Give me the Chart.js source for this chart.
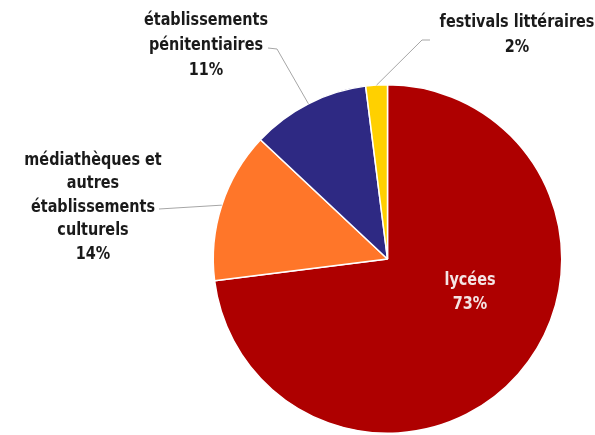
<!DOCTYPE html>
<html>
<head>
<meta charset="utf-8">
<script src="https://cdn.jsdelivr.net/npm/chart.js@4.4.1/dist/chart.umd.min.js"></script>
<style>
  html, body { margin: 0; padding: 0; background: #fff; }
  #wrap { width: 595px; height: 435px; }
</style>
</head>
<body>
<div id="wrap"><canvas id="chartPie" width="595" height="435"></canvas></div>
<script>
// Données
const categories = [
    'lycées',
    'médiathèques et autres établissements culturels',
    'établissements pénitentiaires',
    'festivals littéraires'
];
const valeurs = [73, 14, 11, 2];
const etiquettes = ['73%', '14%', '11%', '2%'];
const couleurs = ['#AE0000', '#FF7629', '#2E2983', '#FFD000'];

// Lignes de texte de chaque étiquette (découpage comme sur l'original)
const lignesEtiquettes = [
    [categories[0], etiquettes[0]],
    ['médiathèques et', 'autres', 'établissements', 'culturels', etiquettes[1]],
    ['établissements', 'pénitentiaires', etiquettes[2]],
    [categories[3], etiquettes[3]]
];

// Police étroite : on compresse un peu la DejaVu condensée
const POLICE = "bold 18px 'Liberation Sans Narrow', 'DejaVu Sans Condensed', sans-serif";
const COMPRESSION = 0.89;

// Placement des étiquettes : centre du texte, première ligne, et point d'attache de la ligne de rappel
const placement = [
    { x: 470, y: 280, pas: 24, couleur: '#F4E4E4', rappel: null },
    { x: 93, y: 160, pas: 23.5, couleur: '#1A1A1A', rappel: [[159, 209]] },
    { x: 206, y: 20, pas: 25, couleur: '#1A1A1A', rappel: [[268, 48], [277, 49]] },
    { x: 517, y: 22, pas: 25, couleur: '#1A1A1A', rappel: [[430, 40], [422, 40]] }
];

const pluginEtiquettes = {
    id: 'etiquettes',
    afterDatasetsDraw(chart) {
        const ctx = chart.ctx;
        const arcs = chart.getDatasetMeta(0).data;
        ctx.save();
        arcs.forEach((arc, i) => {
            const p = placement[i];
            if (p.rappel) {
                const mid = (arc.startAngle + arc.endAngle) / 2;
                const ex = arc.x + Math.cos(mid) * arc.outerRadius;
                const ey = arc.y + Math.sin(mid) * arc.outerRadius;
                ctx.beginPath();
                ctx.strokeStyle = '#A6A6A6';
                ctx.lineWidth = 1;
                ctx.moveTo(p.rappel[0][0], p.rappel[0][1]);
                for (let k = 1; k < p.rappel.length; k++) ctx.lineTo(p.rappel[k][0], p.rappel[k][1]);
                ctx.lineTo(ex, ey);
                ctx.stroke();
            }
            ctx.save();
            ctx.translate(p.x, 0);
            ctx.scale(COMPRESSION, 1);
            ctx.font = POLICE;
            ctx.fillStyle = p.couleur;
            ctx.textAlign = 'center';
            ctx.textBaseline = 'middle';
            lignesEtiquettes[i].forEach((ligne, j) => {
                ctx.fillText(ligne, 0, p.y + j * p.pas);
            });
            ctx.restore();
        });
        ctx.restore();
    }
};

const ctxPie = document.getElementById('chartPie').getContext('2d');
const chartPie = new Chart(ctxPie, {
    type: 'pie',
    data: {
        labels: categories,
        datasets: [{
            data: valeurs,
            backgroundColor: couleurs,
            borderColor: '#FFFFFF',
            borderWidth: 1.5
        }]
    },
    options: {
        responsive: false,
        animation: false,
        layout: { padding: { left: 212, right: 32, top: 84, bottom: 1 } },
        plugins: {
            legend: { display: false },
            tooltip: { enabled: false }
        }
    },
    plugins: [pluginEtiquettes]
});
</script>
</body>
</html>
